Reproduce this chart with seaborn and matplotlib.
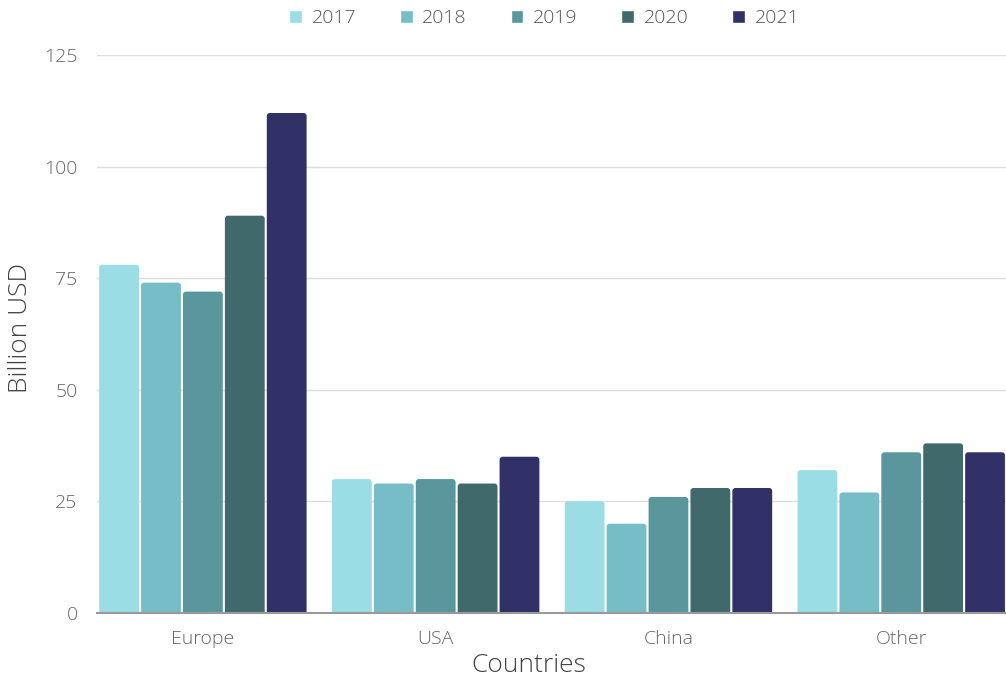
import pandas as pd
import seaborn as sns
import matplotlib.pyplot as plt
from matplotlib.patches import FancyBboxPatch

countries = ['Europe', 'USA', 'China', 'Other']
years = ['2017', '2018', '2019', '2020', '2021']
v2017 = [78, 30, 25, 32]
v2018 = [74, 29, 20, 27]
v2019 = [72, 30, 26, 36]
v2020 = [89, 29, 28, 38]
v2021 = [112, 35, 28, 36]
colors = ['#9bdde4', '#77bdc8', '#5b969c', '#40696c', '#313067']

rows = []
for y, vals in zip(years, [v2017, v2018, v2019, v2020, v2021]):
    for c, v in zip(countries, vals):
        rows.append({'Country': c, 'Year': y, 'Value': v})
df = pd.DataFrame(rows)

sns.set_style('white')
plt.rcParams['font.family'] = ['Open Sans', 'DejaVu Sans']
plt.rcParams['font.weight'] = 'light'
plt.rcParams['axes.labelweight'] = 'light'

fig = plt.figure(figsize=(10.06, 6.78), dpi=100)
ax = fig.add_axes([0.0964, 0.0959, 0.9036, 0.823])
sns.barplot(data=df, x='Country', y='Value', hue='Year', palette=colors,
            width=0.9, gap=0.05, ax=ax, legend=True, saturation=1)

# rounded tops on the bars
for p in list(ax.patches):
    x, y0 = p.get_x(), p.get_y()
    w, h = p.get_width(), p.get_height()
    if h <= 0:
        continue
    fb = FancyBboxPatch((x, y0 - 2), w, h + 2,
                        boxstyle='round,pad=0,rounding_size=0.013',
                        mutation_aspect=52, facecolor=p.get_facecolor(),
                        edgecolor='none', zorder=p.get_zorder())
    fb.set_clip_path(ax.patch)
    ax.add_patch(fb)
    p.set_visible(False)

ax.set_ylim(0, 125)
ax.set_yticks([0, 25, 50, 75, 100, 125])
ax.set_xlim(-0.455, 3.45)
ax.yaxis.grid(True, color='#dddddd', linewidth=1)
ax.set_axisbelow(True)
for s in ['top', 'right', 'left']:
    ax.spines[s].set_visible(False)
ax.spines['bottom'].set_color('#999999')
ax.spines['bottom'].set_linewidth(1.5)
ax.spines['bottom'].set_zorder(5)
ax.tick_params(axis='both', length=0, labelsize=14, labelcolor='#666666')
ax.tick_params(axis='y', pad=14)
ax.tick_params(axis='x', pad=12)
ax.set_xlabel('Countries', fontsize=19, color='#444444')
ax.set_ylabel('Billion USD', fontsize=19, color='#444444')
ax.xaxis.set_label_coords(0.475, -0.071)
ax.yaxis.set_label_coords(-0.070, 0.51)

ax.legend(loc='center', bbox_to_anchor=(0.492, 1.066), ncol=5, frameon=False,
          fontsize=14, labelcolor='#555555', handlelength=0.65, handleheight=0.65,
          columnspacing=2.25, handletextpad=0.5, borderaxespad=0)

fig.savefig('out.png', dpi=100)
